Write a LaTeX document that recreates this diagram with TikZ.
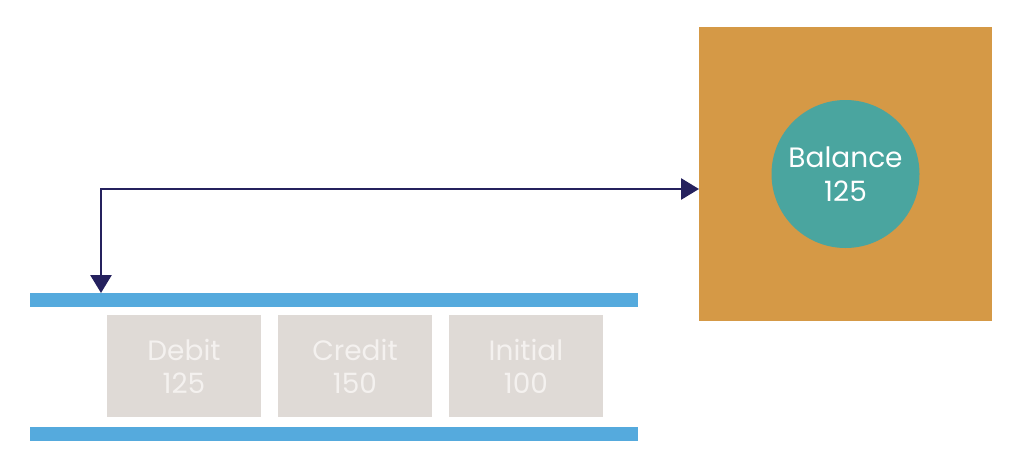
\documentclass[tikz,border=0pt]{standalone}
\usepackage{fontspec}
\setmainfont{Poppins}
\usetikzlibrary{positioning,arrows.meta}
\definecolor{barblue}{HTML}{55AADD}
\definecolor{accorange}{HTML}{D59946}
\definecolor{balteal}{HTML}{4AA59F}
\definecolor{entrygray}{HTML}{DFDAD6}
\definecolor{entrytext}{HTML}{F4F1EF}
\definecolor{linknavy}{HTML}{25215E}
\tikzset{
  ledger/.style={x=1pt,y=-1pt,
    node distance=17pt,
    every node/.style={inner sep=0pt,outer sep=0pt}},
  bar/.style={rectangle,fill=barblue,minimum width=608pt,minimum height=14pt},
  entry/.style={rectangle,fill=entrygray,text=entrytext,align=center,
    minimum width=154pt,minimum height=102pt,
    font=\fontsize{28}{33}\selectfont},
  account/.style={rectangle,fill=accorange,minimum width=293pt,minimum height=294pt},
  balance/.style={circle,fill=balteal,text=white,align=center,minimum size=148pt,
    font=\fontsize{28}{34}\selectfont},
  link/.style={draw=linknavy,line width=2.8pt,
    {Triangle[length=18pt,width=21pt]}-{Triangle[length=18pt,width=21pt]}}
}
\begin{document}
\begin{tikzpicture}[ledger]
  \useasboundingbox (0,0) rectangle (1024,469);
  \node[bar] (topbar) at (334,300) {};
  \node[bar] (botbar) at (334,434) {};
  \node[entry] (debit) at (184,366) {Debit\\125};
  \node[entry] (credit) [right=of debit] {Credit\\150};
  \node[entry] (initial) [right=of credit] {Initial\\100};
  \node[account] (acct) at (845.5,174) {};
  \node[balance] (bal) at (acct.center) {Balance\\125};
  \coordinate (drop) at ([xshift=71pt]topbar.north west);
  \coordinate (entry point) at ([yshift=-15pt]acct.west);
  \draw[link] (drop) |- (entry point);
\end{tikzpicture}
\end{document}
